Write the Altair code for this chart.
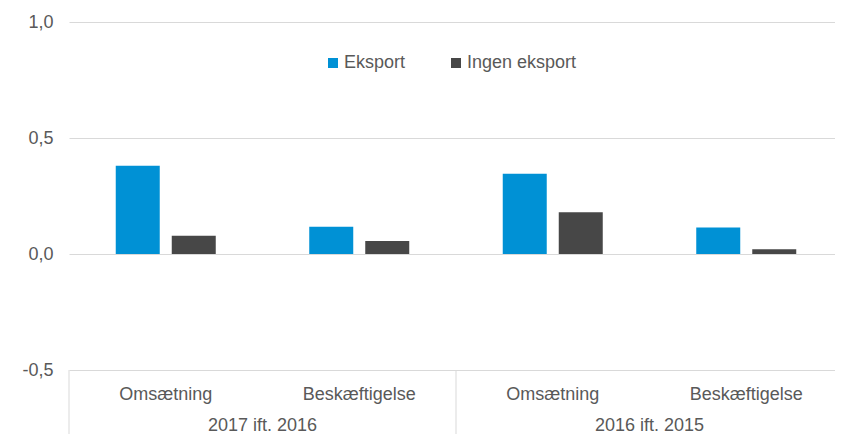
import altair as alt
import pandas as pd

# Data
groups = ["2017 ift. 2016", "2016 ift. 2015"]
measures = ["Omsætning", "Beskæftigelse"]
series = ["Eksport", "Ingen eksport"]
eksport = [0.380, 0.117, 0.346, 0.114]
ingen = [0.079, 0.056, 0.180, 0.021]
colors = ["#0091D5", "#474747"]

FONT = "Liberation Sans"
TXT = "#595959"
GRID = "#D9D9D9"

keys, key_group, key_measure = [], [], []
for g in groups:
    for m in measures:
        keys.append(f"{g} | {m}")
        key_group.append(g)
        key_measure.append(m)

rows = []
for i, k in enumerate(keys):
    rows.append({"key": k, "series": series[0], "value": eksport[i]})
    rows.append({"key": k, "series": series[1], "value": ingen[i]})
df_bars = pd.DataFrame(rows)
df_cats = pd.DataFrame({"key": keys, "measure": key_measure})
df_groups = pd.DataFrame({"group": groups})

# the category scale continues to the right edge of the window (beyond the drawn area)
XRANGE = [0, 774]

xcat = alt.X("key:N", sort=keys, axis=None,
             scale=alt.Scale(paddingInner=0, paddingOuter=0, range=XRANGE))

bars = alt.Chart(df_bars).mark_bar().encode(
    x=xcat,
    xOffset=alt.XOffset("series:N", sort=series,
                        scale=alt.Scale(paddingInner=0.2143, paddingOuter=0.8348)),
    y=alt.Y("value:Q",
            scale=alt.Scale(domain=[-0.5, 1.0], nice=False, zero=False),
            axis=alt.Axis(values=[-0.5, 0, 0.5, 1.0], title=None,
                          labelExpr="replace(replace(format(datum.value, '.1f'), '.', ','), '\u2212', '-')",
                          grid=True, gridColor=GRID, gridWidth=1,
                          domain=False, ticks=False, labelPadding=16,
                          labelFont=FONT, labelFontSize=18, labelColor=TXT)),
    color=alt.Color("series:N",
                    scale=alt.Scale(domain=series, range=colors),
                    legend=alt.Legend(title=None, orient="none", direction="horizontal",
                                      legendX=255, legendY=32,
                                      symbolType="square", symbolSize=100,
                                      symbolStrokeWidth=0, labelOffset=2,
                                      columnPadding=41,
                                      labelFont=FONT, labelFontSize=18,
                                      labelColor=TXT)),
)

sublabels = alt.Chart(df_cats).mark_text(
    font=FONT, fontSize=18, color=TXT, baseline="alphabetic", align="center"
).encode(x=xcat, y=alt.value(378), text="measure:N")

xgrp = alt.X("group:N", sort=groups, axis=None,
             scale=alt.Scale(paddingInner=0, paddingOuter=0, range=XRANGE))

grouplabels = alt.Chart(df_groups).mark_text(
    font=FONT, fontSize=18, color=TXT, baseline="alphabetic", align="center"
).encode(x=xgrp, y=alt.value(409), text="group:N")

separators = alt.Chart(df_groups).mark_rule(color=GRID, strokeWidth=1).encode(
    x=alt.X("group:N", sort=groups, axis=None, bandPosition=0,
            scale=alt.Scale(paddingInner=0, paddingOuter=0, range=XRANGE)),
    y=alt.value(348), y2=alt.value(412))

chart = alt.layer(
    alt.layer(bars, sublabels),
    alt.layer(separators, grouplabels),
).resolve_scale(x="independent").properties(
    width=766, height=348,
    padding={"left": 61, "top": 14, "right": 0, "bottom": 64},
    autosize=alt.AutoSizeParams(type="none"),
    background="white",
).configure_view(stroke=None)

chart.save("out.html", embed_options={"renderer": "svg", "actions": False})
